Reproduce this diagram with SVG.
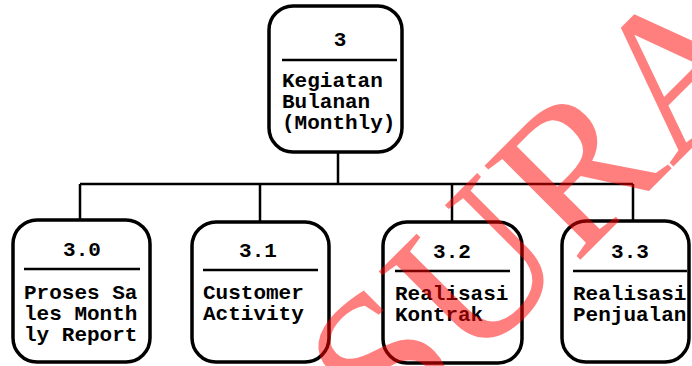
<svg xmlns="http://www.w3.org/2000/svg" width="692" height="366" viewBox="0 0 692 366">
<style>
.box{fill:#fff;stroke:#000;stroke-width:3.5}
.div{stroke:#000;stroke-width:2.5}
.con{fill:none;stroke:#000;stroke-width:2.5}
.t{font-family:"Liberation Mono","DejaVu Sans Mono",monospace;font-weight:bold;font-size:21px;fill:#000}
.n{text-anchor:middle}
.wm{font-family:"Liberation Serif","Times New Roman",serif;font-size:205px;fill:#ff0000;fill-opacity:0.5}
</style>
<rect width="692" height="366" fill="#fff"/>
<g id="connectors">
<path class="con" d="M338,152 V184 M80,184 H633 M80,184 V220 M260,184 V222 M452,184 V222 M633,184 V220"/>
</g>
<g id="node-3">
<rect class="box" x="269" y="6" width="133" height="146" rx="24"/>
<line class="div" x1="282" y1="60" x2="397" y2="60"/>
<text class="t n" x="340" y="46">3</text>
<text class="t" x="282" y="87">Kegiatan</text>
<text class="t" x="282" y="108">Bulanan</text>
<text class="t" x="282" y="129">(Monthly)</text>
</g>
<g id="node-3-0">
<rect class="box" x="13" y="220" width="137" height="142" rx="24"/>
<line class="div" x1="24" y1="269" x2="140" y2="269"/>
<text class="t n" x="82" y="256">3.0</text>
<text class="t" x="24" y="299">Proses Sa</text>
<text class="t" x="24" y="320">les Month</text>
<text class="t" x="24" y="341">ly Report</text>
</g>
<g id="node-3-1">
<rect class="box" x="192" y="222" width="137" height="140" rx="24"/>
<line class="div" x1="203" y1="270" x2="318" y2="270"/>
<text class="t n" x="258" y="257">3.1</text>
<text class="t" x="203" y="299">Customer</text>
<text class="t" x="203" y="320">Activity</text>
</g>
<g id="node-3-2">
<rect class="box" x="383" y="222" width="139" height="141" rx="24"/>
<line class="div" x1="395" y1="271" x2="510" y2="271"/>
<text class="t n" x="452" y="258">3.2</text>
<text class="t" x="395" y="300">Realisasi</text>
<text class="t" x="395" y="321">Kontrak</text>
</g>
<g id="node-3-3">
<rect class="box" x="562" y="221" width="127" height="141" rx="24"/>
<line class="div" x1="573" y1="271" x2="687" y2="271"/>
<text class="t n" x="630" y="258">3.3</text>
<text class="t" x="573" y="300">Realisasi</text>
<text class="t" x="573" y="321">Penjualan</text>
</g>
<text class="wm" transform="translate(390,450) rotate(-45)">SURA</text>
</svg>
